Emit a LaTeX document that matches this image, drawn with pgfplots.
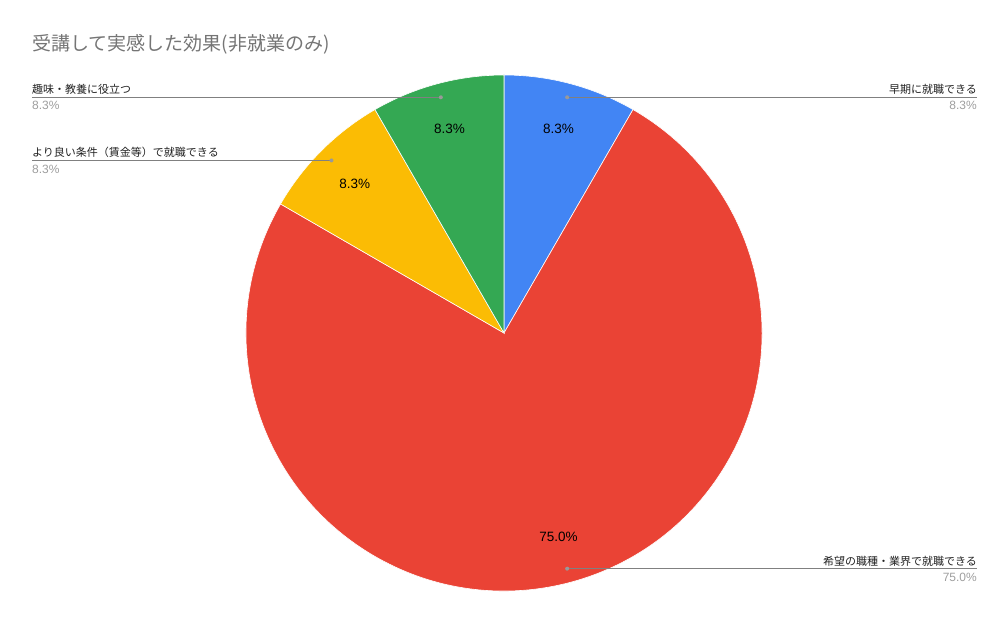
\documentclass[border=0pt]{standalone}
\usepackage{pgfplots}
\pgfplotsset{compat=1.18}
\usetikzlibrary{calc}
\usepackage{fontspec}
\setmainfont{Liberation Sans}
\newfontfamily\jp{Noto Sans CJK JP}

\definecolor{cblue}{HTML}{4285F4}
\definecolor{cred}{HTML}{EA4335}
\definecolor{cyellow}{HTML}{FBBC04}
\definecolor{cgreen}{HTML}{34A853}
\definecolor{ctitle}{HTML}{757575}
\definecolor{cpct}{HTML}{9E9E9E}
\definecolor{cline}{HTML}{808080}

% respondents per answer (clockwise from the top)
\def\vA{1} % 早期に就職できる
\def\vB{9} % 希望の職種・業界で就職できる
\def\vC{1} % より良い条件（賃金等）で就職できる
\def\vD{1} % 趣味・教養に役立つ

% pie centre and radius in picture units (y up)
\def\cx{504}\def\cy{290}\def\rr{258bp}

\newcommand\slice[3]{%
  \fill[#3,draw=white,line width=0.6bp] (axis cs:\cx,\cy) -- ++(#1:\rr)
    arc[start angle=#1,end angle=#2,radius=\rr] -- cycle;}

\begin{document}
\begin{tikzpicture}
\pgfmathsetmacro\tot{\vA+\vB+\vC+\vD}
\pgfmathsetmacro\aA{90}
\pgfmathsetmacro\aB{\aA-360*\vA/\tot}
\pgfmathsetmacro\aC{\aB-360*\vB/\tot}
\pgfmathsetmacro\aD{\aC-360*\vC/\tot}
\pgfmathsetmacro\aE{\aD-360*\vD/\tot}
\pgfmathsetmacro\mA{(\aA+\aB)/2}
\pgfmathsetmacro\mB{(\aB+\aC)/2}
\pgfmathsetmacro\mC{(\aC+\aD)/2}
\pgfmathsetmacro\mD{(\aD+\aE)/2}
\pgfmathsetmacro\pA{100*\vA/\tot}
\pgfmathsetmacro\pB{100*\vB/\tot}
\pgfmathsetmacro\pC{100*\vC/\tot}
\pgfmathsetmacro\pD{100*\vD/\tot}
\pgfkeys{/pgf/number format/.cd,fixed,fixed zerofill,precision=1,assume math mode=true}
\begin{axis}[width=1008bp,height=623bp,scale only axis,
  xmin=0,xmax=1008,ymin=0,ymax=623,hide axis,clip=false]
\path (axis cs:0,0) rectangle (axis cs:1008,623);

\node[anchor=west,inner sep=0,text=ctitle,font=\jp\fontsize{19bp}{21bp}\selectfont]
  at (axis cs:32,579) {受講して実感した効果(非就業のみ)};

\slice{\aA}{\aB}{cblue}
\slice{\aB}{\aC}{cred}
\slice{\aC}{\aD}{cyellow}
\slice{\aD}{\aE}{cgreen}

\tikzset{pct/.style={font=\fontsize{13.5bp}{15bp}\selectfont,text=black}}
\node[pct] at ($(axis cs:\cx,\cy)+(\mA:211bp)$) {\pgfmathprintnumber{\pA}\%};
\node[pct] at ($(axis cs:\cx,\cy)+(\mB:211bp)$) {\pgfmathprintnumber{\pB}\%};
\node[pct] at ($(axis cs:\cx,\cy)+(\mC:211bp)$) {\pgfmathprintnumber{\pC}\%};
\node[pct] at ($(axis cs:\cx,\cy)+(\mD:211bp)$) {\pgfmathprintnumber{\pD}\%};

\coordinate (dA) at ($(axis cs:\cx,\cy)+(\mA:244bp)$);
\coordinate (dB) at ($(axis cs:\cx,\cy)+(\mB:244bp)$);
\coordinate (dC) at ($(axis cs:\cx,\cy)+(\mC:244bp)$);
\coordinate (dD) at ($(axis cs:\cx,\cy)+(\mD:244bp)$);
\coordinate (R) at (axis cs:977,0);
\coordinate (L) at (axis cs:32,0);

\tikzset{lead/.style={cline,line width=0.8bp},
  dot/.style={fill=cline!80},
  lab/.style={inner sep=0,font=\jp\fontsize{11bp}{13bp}\selectfont,text=black!87},
  lpc/.style={inner sep=0,font=\fontsize{12bp}{14bp}\selectfont,text=cpct}}

\draw[lead] (dA) -- (dA -| R);
\fill[dot] (dA) circle[radius=2bp];
\node[lab,anchor=south east] at ([yshift=2.5bp]dA -| R) {早期に就職できる};
\node[lpc,anchor=north east] at ([yshift=-4bp]dA -| R) {\pgfmathprintnumber{\pA}\%};

\draw[lead] (dB) -- (dB -| R);
\fill[dot] (dB) circle[radius=2bp];
\node[lab,anchor=south east] at ([yshift=2.5bp]dB -| R) {希望の職種・業界で就職できる};
\node[lpc,anchor=north east] at ([yshift=-4bp]dB -| R) {\pgfmathprintnumber{\pB}\%};

\draw[lead] (dC -| L) -- (dC);
\fill[dot] (dC) circle[radius=2bp];
\node[lab,anchor=south west] at ([yshift=2.5bp]dC -| L) {より良い条件（賃金等）で就職できる};
\node[lpc,anchor=north west] at ([yshift=-4bp]dC -| L) {\pgfmathprintnumber{\pC}\%};

\draw[lead] (dD -| L) -- (dD);
\fill[dot] (dD) circle[radius=2bp];
\node[lab,anchor=south west] at ([yshift=2.5bp]dD -| L) {趣味・教養に役立つ};
\node[lpc,anchor=north west] at ([yshift=-4bp]dD -| L) {\pgfmathprintnumber{\pD}\%};
\end{axis}
\end{tikzpicture}
\end{document}
